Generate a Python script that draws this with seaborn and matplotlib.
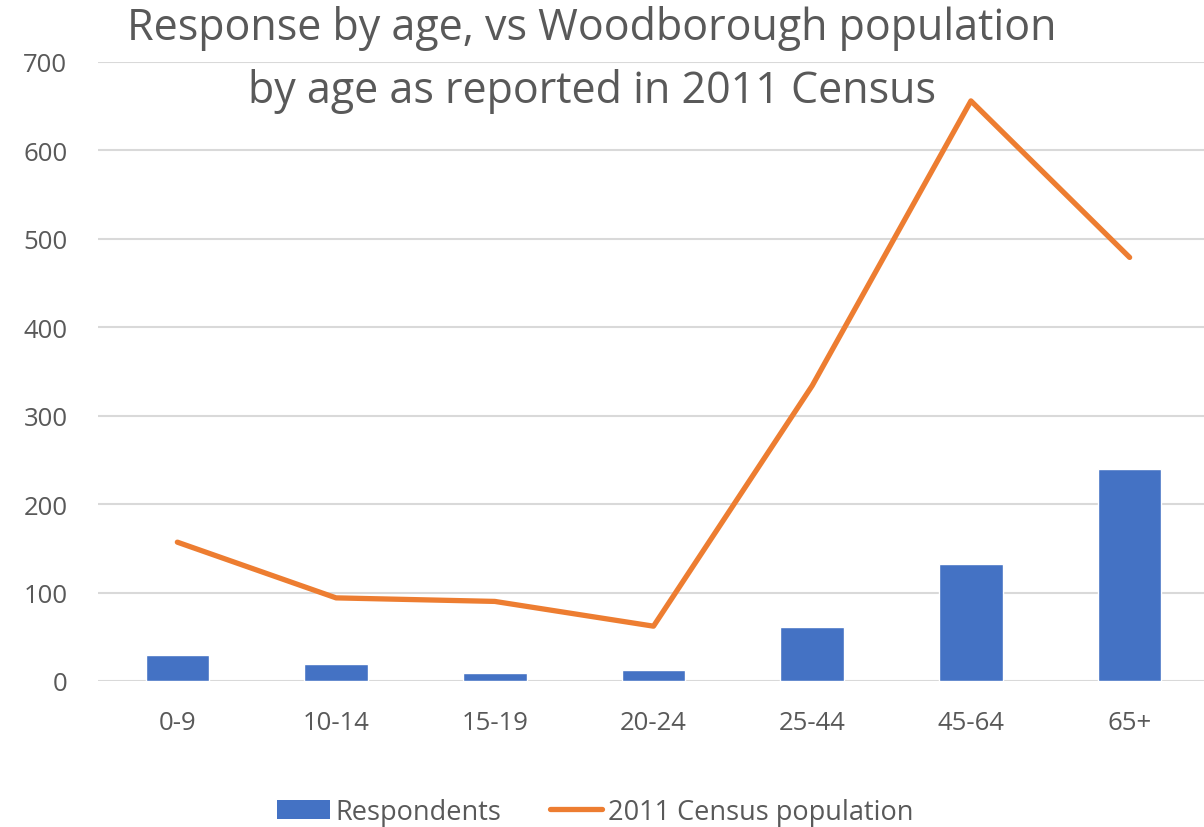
import matplotlib.pyplot as plt
import pandas as pd
import seaborn as sns
from matplotlib.lines import Line2D
from matplotlib.patches import Patch

age_groups = ["0-9", "10-14", "15-19", "20-24", "25-44", "45-64", "65+"]
respondents = [29, 19, 9, 12, 61, 132, 240]
census_2011 = [157, 94, 90, 62, 334, 656, 479]
y_ticks = [0, 100, 200, 300, 400, 500, 600, 700]

BAR_COLOR = "#4472C4"
LINE_COLOR = "#ED7D31"
TEXT_COLOR = "#595959"
GRID_COLOR = "#D9D9D9"

sns.set_style("white")
plt.rcParams["font.family"] = ["Open Sans", "DejaVu Sans"]

df = pd.DataFrame(
	{"Age": age_groups, "Respondents": respondents, "Census": census_2011}
)

fig = plt.figure(figsize=(12.04, 8.28), dpi=100)
ax = fig.add_axes([98 / 1204, 146 / 828, 1111 / 1204, 619 / 828])

sns.barplot(data=df, x="Age", y="Respondents", color=BAR_COLOR,
			width=0.4, saturation=1, ax=ax, zorder=2)
sns.lineplot(data=df, x="Age", y="Census", color=LINE_COLOR, linewidth=3.8,
			 sort=False, ax=ax, zorder=3)
for line in ax.lines:
	line.set_solid_capstyle("round")
	line.set_solid_joinstyle("round")

ax.set_ylim(0, 700)
ax.set_xlim(-0.5, 6.5)
ax.set_yticks(y_ticks)
ax.yaxis.grid(True, color=GRID_COLOR, linewidth=1.5, zorder=0)
ax.set_axisbelow(True)
for side in ["top", "right", "left", "bottom"]:
	ax.spines[side].set_visible(False)
ax.tick_params(axis="both", length=0, labelsize=18.5, labelcolor=TEXT_COLOR)
ax.tick_params(axis="y", pad=22)
ax.tick_params(axis="x", pad=21)
ax.set_xlabel("")
ax.set_ylabel("")

fig.text(592 / 1204, 1 - 60 / 828,
		 "Response by age, vs Woodborough population\nby age as reported in 2011 Census",
		 ha="center", va="center", fontsize=31, color=TEXT_COLOR, linespacing=1.55)

handles = [
	Patch(facecolor=BAR_COLOR, edgecolor="none"),
	Line2D([0], [0], color=LINE_COLOR, linewidth=3.8),
]
fig.legend(handles, ["Respondents", "2011 Census population"],
		   loc="center", bbox_to_anchor=(595 / 1204, 1 - 813 / 828), ncol=2,
		   frameon=False, fontsize=19.5, labelcolor=TEXT_COLOR,
		   handlelength=1.95, handleheight=0.75, columnspacing=1.8,
		   handletextpad=0.2)

fig.savefig("out.png", dpi=100)
